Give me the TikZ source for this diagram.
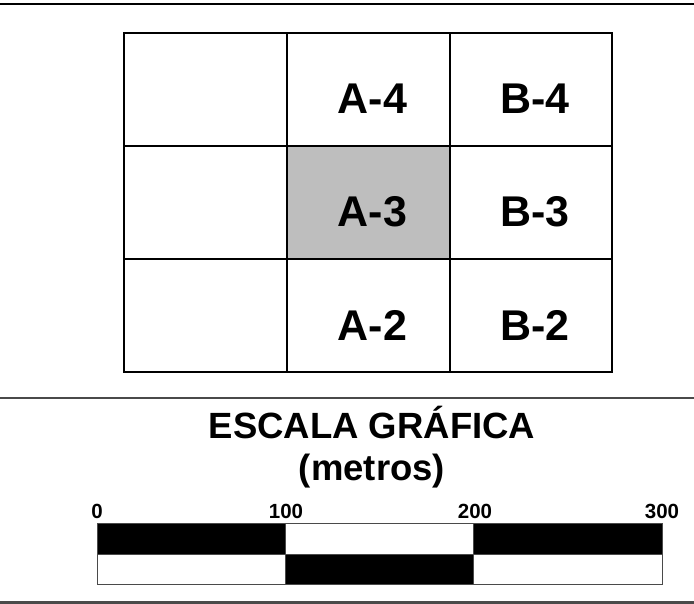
\documentclass[tikz,border=0pt]{standalone}
\usepackage{fontspec}
\setmainfont{Liberation Sans}
\definecolor{cellgray}{HTML}{BEBEBE}
\definecolor{rulegray}{HTML}{4A4A4A}
\tikzset{
  cellbox/.style={draw=black, line width=1.5pt},
  celltext/.style={font=\fontsize{43}{43}\selectfont\bfseries, inner sep=0pt},
  titletext/.style={font=\fontsize{36.5}{36.5}\selectfont\bfseries, inner sep=0pt},
  scaletext/.style={font=\fontsize{20.5}{20.5}\selectfont\bfseries, inner sep=0pt, anchor=base},
  barblack/.style={fill=black, draw=rulegray, line width=0.8pt},
  barwhite/.style={fill=white, draw=rulegray, line width=0.8pt}
}
\begin{document}
\begin{tikzpicture}[x=1pt, y=-1pt]
\useasboundingbox (0,0) rectangle (694,604);
% horizontal rules
\draw[line width=2pt, black] (0,4) -- (694,4);
\draw[line width=1.8pt, rulegray] (0,398) -- (694,398);
\draw[line width=3pt, rulegray] (0,602) -- (694,602);
% grid cells
\node[cellbox, minimum width=163pt, minimum height=113pt, inner sep=0pt] (c11) at (205.5,89.5) {};
\node[cellbox, minimum width=163pt, minimum height=113pt, inner sep=0pt] (c12) at (368.5,89.5) {};
\node[cellbox, minimum width=162pt, minimum height=113pt, inner sep=0pt] (c13) at (531,89.5) {};
\node[cellbox, minimum width=163pt, minimum height=113pt, inner sep=0pt] (c21) at (205.5,202.5) {};
\node[cellbox, fill=cellgray, minimum width=163pt, minimum height=113pt, inner sep=0pt] (c22) at (368.5,202.5) {};
\node[cellbox, minimum width=162pt, minimum height=113pt, inner sep=0pt] (c23) at (531,202.5) {};
\node[cellbox, minimum width=163pt, minimum height=113pt, inner sep=0pt] (c31) at (205.5,315.5) {};
\node[cellbox, minimum width=163pt, minimum height=113pt, inner sep=0pt] (c32) at (368.5,315.5) {};
\node[cellbox, minimum width=162pt, minimum height=113pt, inner sep=0pt] (c33) at (531,315.5) {};
% cell labels
\node[celltext] (a4) at (372.5,99) {A-4};
\node[celltext] (b4) at (535,99) {B-4};
\node[celltext] (a3) at (372.5,212) {A-3};
\node[celltext] (b3) at (535,212) {B-3};
\node[celltext] (a2) at (372.5,325) {A-2};
\node[celltext] (b2) at (535,325) {B-2};
% title
\node[titletext, anchor=base] (t1) at (372,438) {ESCALA GRÁFICA};
\node[titletext, anchor=base] (t2) at (372,480) {(metros)};
% scale labels
\node[scaletext] (l0) at (97,518) {0};
\node[scaletext] (l1) at (286,518) {100};
\node[scaletext] (l2) at (475,518) {200};
\node[scaletext] (l3) at (662,518) {300};
% scale bar
\draw[barblack] (97,523) rectangle (285,554);
\draw[barwhite] (285,523) rectangle (473,554);
\draw[barblack] (473,523) rectangle (662,554);
\draw[barwhite] (97,554) rectangle (285,584);
\draw[barblack] (285,554) rectangle (473,584);
\draw[barwhite] (473,554) rectangle (662,584);
\end{tikzpicture}
\end{document}
